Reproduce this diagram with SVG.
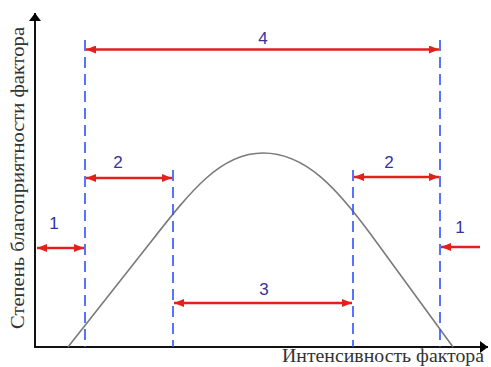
<svg xmlns="http://www.w3.org/2000/svg" width="491" height="367" viewBox="0 0 491 367">
<defs>
<marker id="ra" viewBox="0 0 10 8" refX="10" refY="4" markerWidth="10" markerHeight="8" markerUnits="userSpaceOnUse" orient="auto-start-reverse">
<path d="M0,0 L10,4 L0,8 Z" fill="#e3211c"/>
</marker>
<marker id="ka" viewBox="0 0 8 12" refX="8" refY="6" markerWidth="8" markerHeight="12" markerUnits="userSpaceOnUse" orient="auto">
<path d="M0,0 L8,6 L0,12 Z" fill="#000"/>
</marker>
<style>
.ax{stroke:#111;stroke-width:2;fill:none}
.dash{stroke:#2f52ff;stroke-width:1.6;stroke-dasharray:11 6;fill:none}
.arr{stroke:#e3211c;stroke-width:2.5;fill:none}
.curve{stroke:#7a7a7a;stroke-width:1.6;fill:none}
.num{font-family:"Liberation Sans",Arial,sans-serif;font-size:17px;fill:#33339a;text-anchor:middle}
.lbl{font-family:"Liberation Serif","Times New Roman",serif;font-size:19px;fill:#333}
</style>
</defs>
<g id="axes">
<line class="ax" x1="35" y1="347" x2="35" y2="13" marker-end="url(#ka)"/>
<line class="ax" x1="34" y1="347" x2="488" y2="347" marker-end="url(#ka)"/>
<text class="lbl" x="282" y="362" textLength="202" lengthAdjust="spacingAndGlyphs">Интенсивность фактора</text>
<text class="lbl" transform="translate(24,329) rotate(-90)" x="0" y="0" textLength="302" lengthAdjust="spacingAndGlyphs">Степень благоприятности фактора</text>
</g>
<g id="curve">
<path class="curve" d="M68,347 L150,243 C190,192 220,153 263,153 C306,153 338,189.5 372,236 L453,347"/>
</g>
<g id="boundaries">
<line class="dash" x1="85" y1="40" x2="85" y2="347"/>
<line class="dash" x1="173" y1="170" x2="173" y2="347"/>
<line class="dash" x1="353" y1="170" x2="353" y2="347"/>
<line class="dash" x1="440" y1="40" x2="440" y2="347"/>
</g>
<g id="connectors">
<line class="arr" x1="86" y1="49.5" x2="439" y2="49.5" marker-start="url(#ra)" marker-end="url(#ra)"/>
<line class="arr" x1="86" y1="178" x2="172" y2="178" marker-start="url(#ra)" marker-end="url(#ra)"/>
<line class="arr" x1="354" y1="177" x2="439" y2="177" marker-start="url(#ra)" marker-end="url(#ra)"/>
<line class="arr" x1="174" y1="303" x2="352" y2="303" marker-start="url(#ra)" marker-end="url(#ra)"/>
<line class="arr" x1="37" y1="248" x2="84" y2="248" marker-start="url(#ra)" marker-end="url(#ra)"/>
<line class="arr" x1="480" y1="247" x2="441" y2="247" marker-end="url(#ra)"/>
</g>
<g id="labels">
<text class="num" x="263" y="44">4</text>
<text class="num" x="118" y="168">2</text>
<text class="num" x="389" y="168">2</text>
<text class="num" x="264" y="295">3</text>
<text class="num" x="54" y="229">1</text>
<text class="num" x="460" y="233">1</text>
</g>
</svg>
